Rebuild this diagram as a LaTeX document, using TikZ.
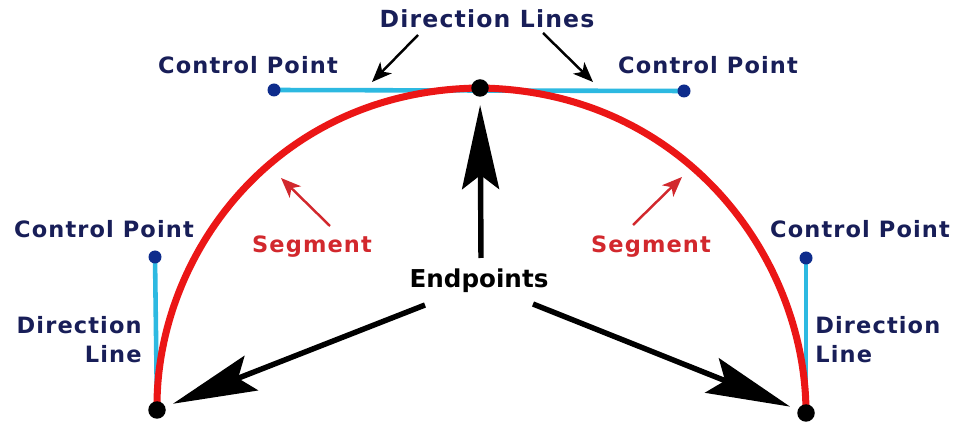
\documentclass[tikz,border=0pt]{standalone}
\usepackage{fontspec}
\setmainfont{DejaVu Sans}
\newfontfamily\spacedfont[LetterSpace=5]{DejaVu Sans}
\usetikzlibrary{positioning,arrows.meta,backgrounds}
\definecolor{minenavy}{RGB}{24,30,88}
\definecolor{minedot}{RGB}{14,44,140}
\definecolor{minecyan}{RGB}{45,185,225}
\definecolor{minered}{RGB}{235,22,22}
\definecolor{minelabel}{RGB}{210,40,45}

\begin{document}
\begin{tikzpicture}[x=0.02cm,y=-0.02cm,
    lbl/.style={font=\spacedfont\bfseries\fontsize{12.8}{16.4}\selectfont,text=minenavy,inner sep=0pt},
    seglbl/.style={lbl,text=minelabel},
    endpt/.style={circle,fill=black,inner sep=0pt,minimum size=0.35cm},
    ctrlpt/.style={circle,fill=minedot,inner sep=0pt,minimum size=0.26cm},
    dirline/.style={minecyan,line width=2.6pt},
    segcurve/.style={minered,line width=4pt},
    thinarrow/.style={-{Stealth[length=0.4cm,width=0.32cm,inset=0.11cm]},line width=1.4pt},
    bigarrow/.style={-{Stealth[length=1.68cm,width=0.74cm,inset=0.28cm]},line width=3.1pt,shorten >=0.16cm}]
    \useasboundingbox (0,0) rectangle (960,428);

    % anchor points and handles
    \node[endpt] (epl) at (157,410) {};
    \node[endpt] (ept) at (480,88) {};
    \node[endpt] (epr) at (806,413) {};
    \node[ctrlpt] (cpl) at (155,257) {};
    \node[ctrlpt] (cptl) at (274,90) {};
    \node[ctrlpt] (cptr) at (684,91) {};
    \node[ctrlpt] (cpr) at (806,258) {};

    \begin{pgfonlayer}{background}
        \draw[dirline] (cpl.center) -- (epl.center);
        \draw[dirline] (cptl.center) -- (cptr.center);
        \draw[dirline] (cpr.center) -- (epr.center);
        \draw[segcurve] (epl.center) .. controls (cpl.center) and (cptl.center) .. (ept.center);
        \draw[segcurve] (ept.center) .. controls (cptr.center) and (cpr.center) .. (epr.center);
    \end{pgfonlayer}

    % labels
    \node[lbl,font=\spacedfont\bfseries\fontsize{13.4}{16}\selectfont,anchor=base] (dirlines) at (487,28) {Direction Lines};
    \node[lbl,anchor=base] (cptxtl) at (248,74) {Control Point};
    \node[lbl,anchor=base] (cptxtr) at (708,74) {Control Point};
    \node[lbl,anchor=base] (cpltxt) at (104,238) {Control Point};
    \node[lbl,anchor=base] (cprtxt) at (860,238) {Control Point};
    \node[lbl,align=right,anchor=north east] (dlltxt) at (142,316) {Direction\\Line};
    \node[lbl,align=left,anchor=north west] (dlrtxt) at (815,316) {Direction\\Line};
    \node[seglbl,anchor=base] (segl) at (312,253) {Segment};
    \node[seglbl,anchor=base] (segr) at (651,253) {Segment};
    \node[lbl,text=black,font=\bfseries\fontsize{14}{16}\selectfont,anchor=base] (endtxt) at (479,288) {Endpoints};

    % arrow ends
    \coordinate (dltaill) at (418,35);
    \coordinate (dltipl) at (372,82);
    \coordinate (dltailr) at (543,33);
    \coordinate (dltipr) at (593,82);
    \coordinate (sgtaill) at (330,226);
    \coordinate (sgtipl) at (281,178);
    \coordinate (sgtailr) at (633,225);
    \coordinate (sgtipr) at (682,177);
    \coordinate (eptailt) at (481,258);
    \coordinate (eptaill) at (425,305);
    \coordinate (eptailr) at (533,304);

    \draw[thinarrow] (dltaill) -- (dltipl);
    \draw[thinarrow] (dltailr) -- (dltipr);
    \draw[thinarrow,minelabel] (sgtaill) -- (sgtipl);
    \draw[thinarrow,minelabel] (sgtailr) -- (sgtipr);
    \draw[bigarrow] (eptailt) -- (ept);
    \draw[bigarrow] (eptaill) -- (epl);
    \draw[bigarrow] (eptailr) -- (epr);
\end{tikzpicture}
\end{document}
